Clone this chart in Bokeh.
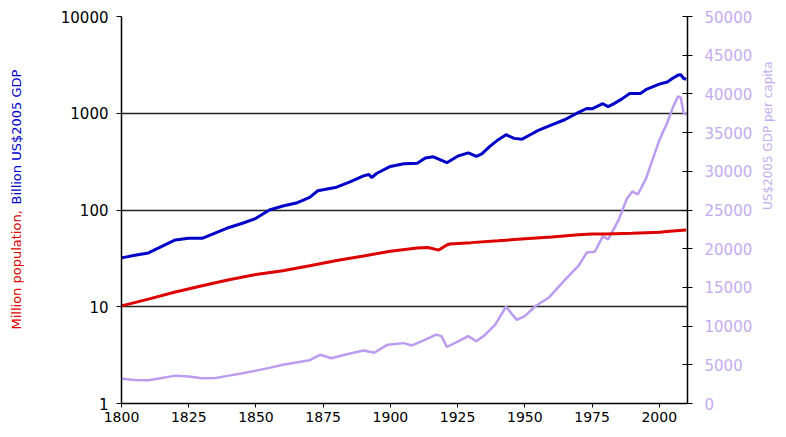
from bokeh.plotting import figure
from bokeh.models import Range1d, LinearAxis, LinearScale, FixedTicker, Title
from bokeh.embed import file_html
from bokeh.resources import INLINE
import math

# ---- data ----
gdp_years = [1800, 1805, 1810, 1815, 1820, 1825, 1830, 1835, 1840, 1845, 1850, 1855, 1860, 1865,
             1870, 1873, 1880, 1885, 1890, 1892, 1893, 1895, 1900, 1905, 1910, 1913, 1916, 1918,
             1921, 1925, 1929, 1932, 1934, 1937, 1940, 1943, 1946, 1949, 1952, 1955, 1960, 1965,
             1970, 1973, 1975, 1979, 1981, 1983, 1986, 1989, 1993, 1995, 2000, 2003, 2005, 2007,
             2008, 2009, 2010]
gdp_billion = [32, 34, 36, 42, 49, 51, 51, 58, 66, 73, 82, 100, 110, 118,
               135, 158, 172, 195, 225, 233, 217, 240, 282, 300, 305, 345, 355, 335,
               308, 360, 390, 358, 380, 455, 530, 600, 550, 540, 600, 665, 760, 862,
               1020, 1120, 1110, 1255, 1170, 1250, 1400, 1600, 1600, 1750, 2000, 2100, 2300, 2480,
               2500, 2300, 2240]

pop_years = [1800, 1810, 1820, 1830, 1840, 1850, 1860, 1870, 1880, 1890, 1900, 1910, 1914,
             1918, 1921, 1922, 1930, 1940, 1950, 1960, 1970, 1975, 1980, 1990, 2000, 2005, 2010]
pop_million = [10.2, 12, 14.2, 16.5, 19, 21.5, 23.5, 26.5, 30, 33.5, 37.5, 40.5, 41,
               38.5, 43.5, 44.5, 46, 48, 50.5, 52.5, 55.5, 56.5, 56.5, 57.5, 59, 60.5, 62]

pc_years = [1800, 1805, 1810, 1815, 1820, 1825, 1830, 1835, 1840, 1845, 1850, 1855, 1860, 1865,
            1870, 1874, 1878, 1882, 1885, 1890, 1894, 1899, 1905, 1908, 1912, 1917, 1919, 1921,
            1925, 1929, 1932, 1935, 1939, 1943, 1947, 1950, 1954, 1959, 1965, 1970, 1973, 1976,
            1979, 1981, 1985, 1988, 1990, 1992, 1995, 1997, 2000, 2003, 2005, 2007, 2008, 2009, 2010]
gdp_per_capita = [3200, 3050, 3000, 3300, 3600, 3500, 3250, 3300, 3600, 3900, 4250, 4600, 5000, 5300,
                  5600, 6300, 5850, 6200, 6450, 6850, 6550, 7600, 7800, 7500, 8100, 8900, 8700, 7300,
                  8000, 8700, 8050, 8800, 10200, 12500, 10800, 11300, 12600, 13700, 16000, 17800, 19500, 19600,
                  21600, 21200, 23800, 26500, 27400, 27000, 29000, 31000, 34000, 36300, 38200, 39700, 39500, 37600, 37300]

x_ticks = [1800, 1825, 1850, 1875, 1900, 1925, 1950, 1975, 2000]
left_ticks = [1, 10, 100, 1000, 10000]
right_ticks = [0, 5000, 10000, 15000, 20000, 25000, 30000, 35000, 40000, 45000, 50000]

BLUE = "#0000C8"
RED = "#DD0000"
LAV = "#BC9CF0"
LAV_TXT = "#C4ACF2"
FONT = "DejaVu Sans"

p = figure(frame_width=566, frame_height=387, y_axis_type="log",
           x_range=Range1d(1800, 2010.5), y_range=Range1d(1, 10000),
           min_border_left=121, min_border_right=98, min_border_top=16, min_border_bottom=30,
           output_backend="svg", toolbar_location=None)
p.outline_line_color = None
p.background_fill_color = "white"
p.border_fill_color = "white"

p.extra_y_ranges = {"pc": Range1d(0, 50000)}
p.extra_y_scales = {"pc": LinearScale()}

# grid
p.xgrid.grid_line_color = None
p.ygrid.grid_line_color = "#222222"
p.ygrid.grid_line_width = 1.5
p.ygrid.ticker = FixedTicker(ticks=left_ticks)
p.ygrid.minor_grid_line_color = None

# x axis
xa = p.xaxis[0]
xa.ticker = FixedTicker(ticks=x_ticks)
xa.axis_line_color = "black"
xa.axis_line_width = 1.5
xa.major_tick_line_color = "black"
xa.major_tick_in = 0
xa.major_tick_out = 4
xa.minor_tick_line_color = None
xa.major_label_text_font = FONT
xa.major_label_text_font_size = "14px"
xa.major_label_text_color = "black"
xa.major_label_standoff = 4

# left axis
ya = p.yaxis[0]
ya.ticker = FixedTicker(ticks=left_ticks)
ya.axis_line_color = "black"
ya.axis_line_width = 1.5
ya.major_tick_line_color = "black"
ya.major_tick_in = 0
ya.major_tick_out = 5
ya.minor_tick_line_color = None
ya.major_label_text_font = FONT
ya.major_label_text_font_size = "15px"
ya.major_label_text_color = "black"
ya.major_label_standoff = 8
ya.major_label_overrides = {1: "1", 10: "10", 100: "100", 1000: "1000", 10000: "10000"}

# right axis
ra = LinearAxis(y_range_name="pc", ticker=FixedTicker(ticks=right_ticks))
ra.axis_line_color = "black"
ra.axis_line_width = 1.5
ra.major_tick_line_color = "black"
ra.major_tick_in = 5
ra.major_tick_out = 5
ra.minor_tick_line_color = None
ra.major_label_text_font = FONT
ra.major_label_text_font_size = "15px"
ra.major_label_text_color = LAV_TXT
ra.major_label_standoff = 12
ra.axis_label = "US$2005 GDP per capita"
ra.axis_label_orientation = math.pi / 2
ra.axis_label_text_font = FONT
ra.axis_label_text_font_size = "12px"
ra.axis_label_text_font_style = "normal"
ra.axis_label_text_color = LAV_TXT
ra.axis_label_standoff = 13
p.add_layout(ra, "right")

# lines
p.line(pc_years, gdp_per_capita, y_range_name="pc", line_color=LAV, line_width=2.5)
p.line(pop_years, pop_million, line_color=RED, line_width=3)
p.line(gdp_years, gdp_billion, line_color=BLUE, line_width=3)

# two-coloured left title: two zero-width titles pushed outward into one shared column
p.add_layout(Title(text="Million population,", align="left", offset=74, standoff=-98,
                   vertical_align="top",
                   text_color=RED, text_font=FONT, text_font_size="13px",
                   text_font_style="normal"), "left")
p.add_layout(Title(text="Billion US$2005 GDP", align="left", offset=199, standoff=-98,
                   vertical_align="top",
                   text_color=BLUE, text_font=FONT, text_font_size="13px",
                   text_font_style="normal"), "left")

open("out.html", "w").write(file_html(p, INLINE))
